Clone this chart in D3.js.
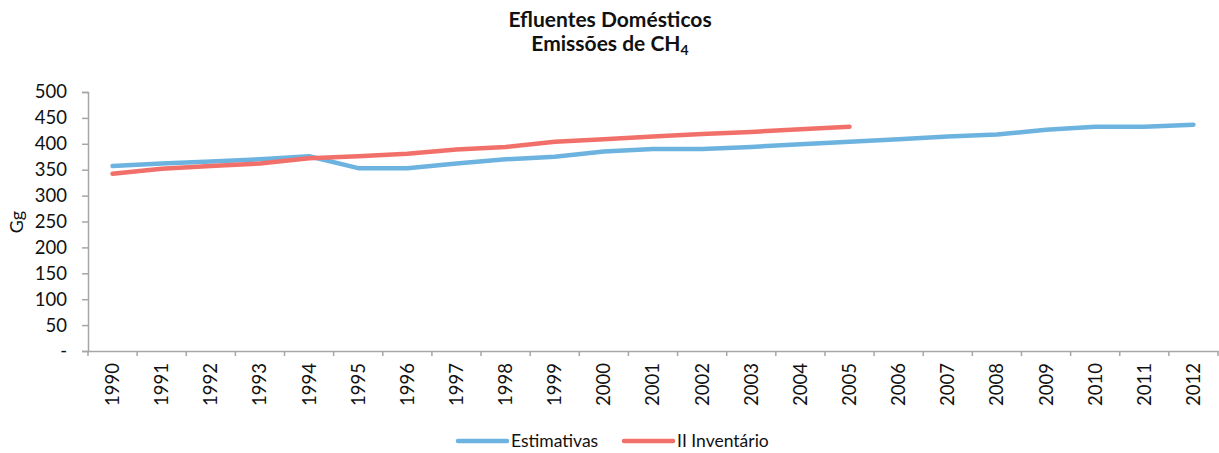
<!DOCTYPE html>
<html><head><meta charset="utf-8">
<script src="https://cdn.jsdelivr.net/npm/d3@7"></script>
<style>body{margin:0;background:#fff}svg{display:block}</style>
</head><body><svg id="c" width="1219" height="453"></svg>
<script>
const years = ["1990","1991","1992","1993","1994","1995","1996","1997","1998","1999","2000","2001","2002","2003","2004","2005","2006","2007","2008","2009","2010","2011","2012"];
const estimativas = [357,362,366,370,376,353,353,362,370,375,385,390,390,394,399,404,409,414,418,427,433,433,437];
const inventario = [342,352,357,362,372,376,381,389,394,404,409,414,419,423,428,433];
const yTicks = [0,50,100,150,200,250,300,350,400,450,500];
const seriesNames = ["Estimativas","II Inventário"];
const colors = ["#6DB3E0","#F2706A"];

const svg = d3.select("#c");
const font = "Lato, 'Open Sans', sans-serif";
const m = {l:88, r:1218, t:92, b:351};
const x = d3.scaleBand().domain(years).range([m.l, m.r]);
const y = d3.scaleLinear().domain([0,500]).range([m.b, m.t]);

// title
svg.append("text").attr("x",610).attr("y",27).attr("text-anchor","middle")
  .attr("font-family",font).attr("font-weight","bold").attr("font-size",21).attr("fill","#111")
  .text("Efluentes Domésticos");
const t2 = svg.append("text").attr("x",610).attr("y",51).attr("text-anchor","middle")
  .attr("font-family",font).attr("font-weight","bold").attr("font-size",21).attr("fill","#111");
t2.append("tspan").text("Emissões de CH");
t2.append("tspan").attr("font-size",14).attr("dy",4).text("4");

// y axis
const ya = svg.append("g").attr("transform",`translate(${m.l},0)`)
  .call(d3.axisLeft(y).tickValues(yTicks).tickSize(6).tickPadding(15).tickFormat(d=>d===0?"-":d));
ya.select(".domain").attr("stroke","#a6a6a6").attr("stroke-width",1.5);
ya.selectAll(".tick line").attr("stroke","#a6a6a6").attr("stroke-width",1.5);
ya.selectAll("text").attr("font-family",font).attr("font-size",18.5).attr("fill","#111");

// x axis
const xa = svg.append("g").attr("transform",`translate(0,${m.b})`)
  .call(d3.axisBottom(x).tickSize(0).tickSizeOuter(0));
xa.select(".domain").attr("stroke","#a6a6a6").attr("stroke-width",1.5);
xa.selectAll(".tick text").attr("font-family",font).attr("font-size",18.5).attr("fill","#111")
  .attr("transform","rotate(-90)").attr("text-anchor","end").attr("x",-12).attr("y",0).attr("dy","0.35em");
// category boundary ticks
xa.selectAll(".bt").data(years.concat(["end"])).enter().append("line").attr("class","bt")
  .attr("x1",(d,i)=>m.l + x.step()*i).attr("x2",(d,i)=>m.l + x.step()*i)
  .attr("y1",0).attr("y2",5).attr("stroke","#a6a6a6").attr("stroke-width",1.5);

// y label
svg.append("text").attr("transform","translate(23,222) rotate(-90)").attr("text-anchor","middle")
  .attr("font-family",font).attr("font-size",18).attr("fill","#111").text("Gg");

const line = d3.line().x((d,i)=>x(years[i])+x.bandwidth()/2).y(d=>y(d));
[estimativas, inventario].forEach((s,k)=>{
  svg.append("path").datum(s).attr("d",line).attr("fill","none")
    .attr("stroke",colors[k]).attr("stroke-width",4.5).attr("stroke-linecap","round").attr("stroke-linejoin","round");
});

// legend
const lg = [{x:458},{x:624}];
seriesNames.forEach((n,k)=>{
  svg.append("line").attr("x1",lg[k].x).attr("x2",lg[k].x+49).attr("y1",441).attr("y2",441)
    .attr("stroke",colors[k]).attr("stroke-width",4.5).attr("stroke-linecap","round");
  svg.append("text").attr("x",lg[k].x+53).attr("y",447).attr("font-family",font).attr("font-size",17.5)
    .attr("fill","#111").text(n);
});
</script></body></html>
